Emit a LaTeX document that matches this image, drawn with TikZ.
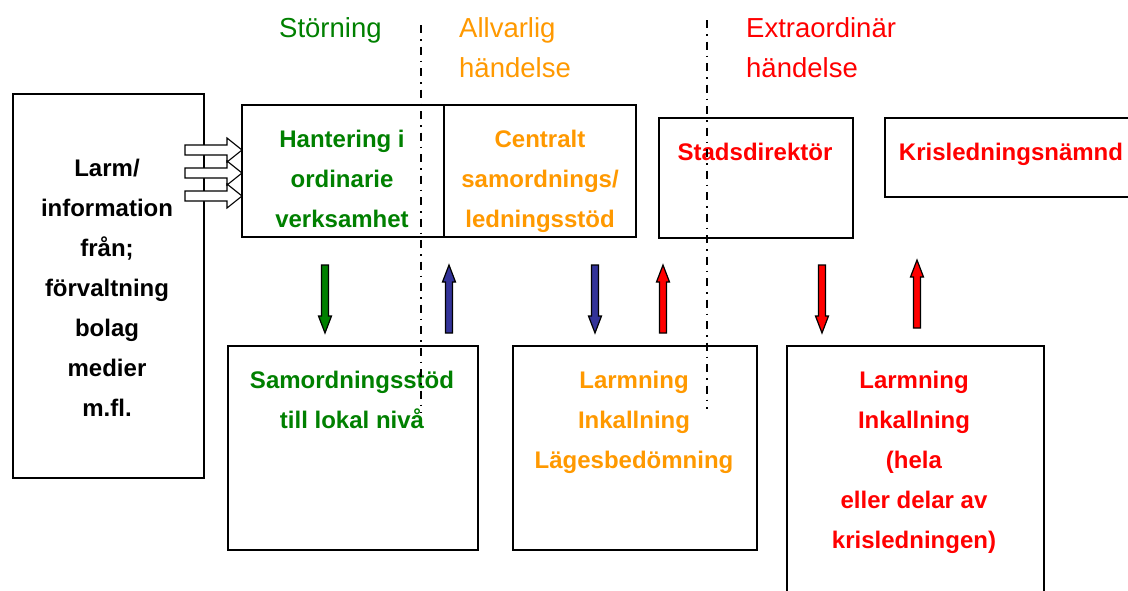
\documentclass[tikz,border=0pt]{standalone}
\usepackage{fontspec}
\setmainfont{Liberation Sans}
\definecolor{cgreen}{HTML}{008000}
\definecolor{corange}{HTML}{FF9900}
\definecolor{cred}{HTML}{FF0000}
\definecolor{cblue}{HTML}{333399}
\begin{document}
\begin{tikzpicture}[x=1pt,y=-1pt,
  box/.style={draw=black, line width=1.8pt, inner sep=0pt, anchor=north west},
  btxt/.style={font=\bfseries\fontsize{24}{40}\selectfont, align=center, inner sep=0pt, anchor=north},
  htxt/.style={font=\fontsize{27.5}{40}\selectfont, align=left, inner sep=0pt, anchor=north west},
  divider/.style={line width=1.5pt, dash pattern=on 8pt off 6pt on 1.5pt off 6pt},
  pics/darrow/.style={code={\draw[line width=1.2pt, fill=#1] (-3.5,0) -- (3.5,0) -- (3.5,51) -- (6.5,51) -- (0,68) -- (-6.5,51) -- (-3.5,51) -- cycle;}},
  pics/uarrow/.style={code={\draw[line width=1.2pt, fill=#1] (0,0) -- (6.5,17) -- (3.5,17) -- (3.5,68) -- (-3.5,68) -- (-3.5,17) -- (-6.5,17) -- cycle;}},
  pics/rarrow/.style={code={\draw[line width=1.1pt, fill=white] (0,-5) -- (42,-5) -- (42,-12) -- (57,0) -- (42,12) -- (42,5) -- (0,5) -- cycle;}}
]
\useasboundingbox[fill=white] (0,0) rectangle (1128,590);

% boxes
\node[box, minimum width=191pt, minimum height=384pt] (src) at (12,93) {};
\node[box, minimum width=202pt, minimum height=132pt] (hant) at (241,104) {};
\node[box, minimum width=192pt, minimum height=132pt] (cent) at (443,104) {};
\node[box, minimum width=194pt, minimum height=120pt] (stad) at (658,117) {};
\node[box, minimum width=260pt, minimum height=79pt] (kris) at (884,117) {};
\node[box, minimum width=250pt, minimum height=204pt] (samb) at (227,345) {};
\node[box, minimum width=244pt, minimum height=204pt] (larb) at (512,345) {};
\node[box, minimum width=257pt, minimum height=260pt] (redb) at (786,345) {};

% headers
\node[htxt, text=cgreen] (hstor) at (279,17) {Störning};
\node[htxt, text=corange] (hallv) at (459,17) {Allvarlig\\händelse};
\node[htxt, text=cred] (hextr) at (746,17) {Extraordinär\\händelse};

% texts
\node[btxt] (tsrc) at (107,159) {Larm/\\information\\från;\\förvaltning\\bolag\\medier\\m.fl.};
\node[btxt, text=cgreen] (thant) at (342,130) {Hantering i\\ordinarie\\verksamhet};
\node[btxt, text=corange] (tcent) at (540,130) {Centralt\\samordnings/\\ledningsstöd};
\node[btxt, text=cred] (tstad) at (755,143) {Stadsdirektör};
\node[btxt, text=cred] (tkris) at (1011,143) {Krisledningsnämnd};
\node[btxt, text=cgreen] (tsamb) at (352,371) {Samordningsstöd\\till lokal nivå};
\node[btxt, text=corange] (tlarb) at (634,371) {Larmning\\Inkallning\\Lägesbedömning};
\node[btxt, text=cred] (tredb) at (914,371) {Larmning\\Inkallning\\(hela\\eller delar av\\krisledningen)};

% dividers
\coordinate (d1a) at (421,25);
\coordinate (d1b) at (421,413);
\coordinate (d2a) at (707,20);
\coordinate (d2b) at (707,409);
\draw[divider] (d1a) -- (d1b);
\draw[divider] (d2a) -- (d2b);

% input arrows
\pic at (185,150) {rarrow};
\pic at (185,173) {rarrow};
\pic at (185,196) {rarrow};

% vertical block arrows
\pic at (325,265) {darrow=cgreen};
\pic at (449,265) {uarrow=cblue};
\pic at (595,265) {darrow=cblue};
\pic at (663,265) {uarrow=cred};
\pic at (822,265) {darrow=cred};
\pic at (917,260) {uarrow=cred};
\end{tikzpicture}
\end{document}
